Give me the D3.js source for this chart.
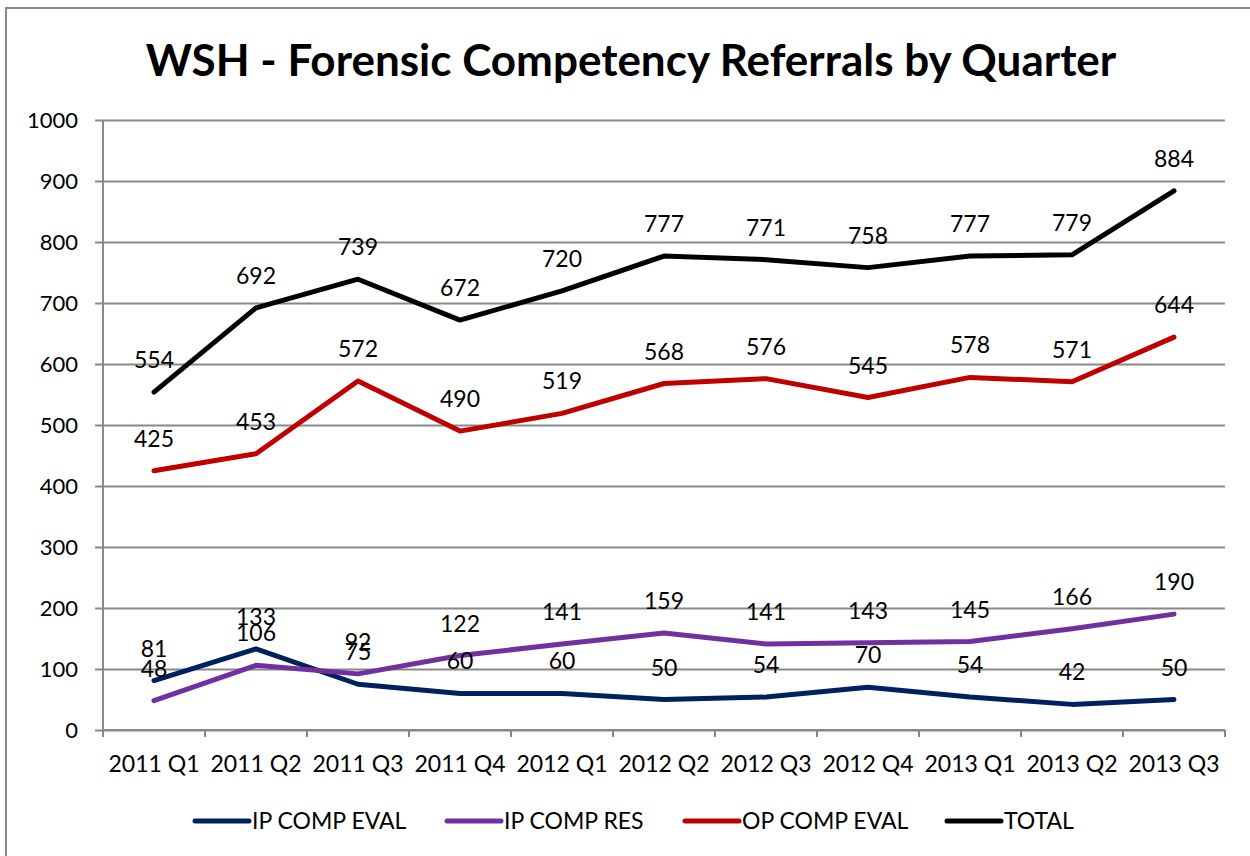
<!DOCTYPE html>
<html>
<head>
<meta charset="utf-8">
<script src="https://cdn.jsdelivr.net/npm/d3@7"></script>
<style>
  html, body { margin: 0; padding: 0; background: #ffffff; }
  svg { display: block; font-family: Lato, "Open Sans", sans-serif; }
</style>
</head>
<body>
<svg id="chart" width="1250" height="856"></svg>
<script>
var quarters = ['2011 Q1', '2011 Q2', '2011 Q3', '2011 Q4', '2012 Q1', '2012 Q2',
    '2012 Q3', '2012 Q4', '2013 Q1', '2013 Q2', '2013 Q3'];
var ipCompEval = [81, 133, 75, 60, 60, 50, 54, 70, 54, 42, 50];
var ipCompRes = [48, 106, 92, 122, 141, 159, 141, 143, 145, 166, 190];
var opCompEval = [425, 453, 572, 490, 519, 568, 576, 545, 578, 571, 644];
var total = [554, 692, 739, 672, 720, 777, 771, 758, 777, 779, 884];
var yTicks = [0, 100, 200, 300, 400, 500, 600, 700, 800, 900, 1000];

var series = [
    { name: 'IP COMP EVAL', values: ipCompEval, colour: '#002060' },
    { name: 'IP COMP RES', values: ipCompRes, colour: '#7030a0' },
    { name: 'OP COMP EVAL', values: opCompEval, colour: '#c00000' },
    { name: 'TOTAL', values: total, colour: '#000000' }
];

var svg = d3.select('#chart');
var plot = { left: 103, right: 1225, top: 120, bottom: 730 };
var gridColour = '#888888';

// outer chart border (right and bottom edges fall outside the picture)
svg.append('rect')
    .attr('x', 6).attr('y', 8)
    .attr('width', 1260).attr('height', 860)
    .attr('fill', 'none')
    .attr('stroke', gridColour)
    .attr('stroke-width', 2);

svg.append('text')
    .attr('x', 631).attr('y', 76)
    .attr('text-anchor', 'middle')
    .attr('font-weight', 'bold')
    .attr('font-size', 44)
    .attr('fill', '#000')
    .text('WSH - Forensic Competency Referrals by Quarter');

var x = d3.scaleBand().domain(quarters).range([plot.left, plot.right]);
var y = d3.scaleLinear().domain([0, 1000]).range([plot.bottom, plot.top]);

// horizontal gridlines plus y ticks
var yAxis = d3.axisLeft(y)
    .tickValues(yTicks)
    .tickFormat(d3.format('d'))
    .tickSize(plot.right - plot.left + 8)
    .tickPadding(17);
var gy = svg.append('g')
    .attr('transform', 'translate(' + plot.right + ',0)')
    .call(yAxis);
gy.select('.domain').remove();
gy.selectAll('line').attr('stroke', gridColour).attr('stroke-width', 2);
gy.selectAll('text').attr('font-size', 22).attr('fill', '#000')
    .attr('font-family', 'Lato, sans-serif');

// vertical axis line
svg.append('line')
    .attr('x1', plot.left).attr('x2', plot.left)
    .attr('y1', plot.top).attr('y2', plot.bottom)
    .attr('stroke', gridColour).attr('stroke-width', 2);

// category axis: ticks sit on band boundaries
var gx = svg.append('g').attr('transform', 'translate(0,' + plot.bottom + ')');
gx.append('line')
    .attr('x1', plot.left).attr('x2', plot.right)
    .attr('stroke', gridColour).attr('stroke-width', 2);
var bounds = quarters.map(function (q) { return x(q); }).concat([plot.right]);
gx.selectAll('line.tick')
    .data(bounds)
    .enter().append('line')
    .attr('class', 'tick')
    .attr('x1', function (d) { return d; }).attr('x2', function (d) { return d; })
    .attr('y1', 0).attr('y2', 7)
    .attr('stroke', gridColour).attr('stroke-width', 2);
gx.selectAll('text')
    .data(quarters)
    .enter().append('text')
    .attr('x', function (d) { return x(d) + x.bandwidth() / 2; })
    .attr('y', 42)
    .attr('text-anchor', 'middle')
    .attr('font-size', 23)
    .attr('fill', '#000')
    .text(function (d) { return d; });

var line = d3.line()
    .x(function (d, i) { return x(quarters[i]) + x.bandwidth() / 2; })
    .y(function (d) { return y(d); });

var lines = svg.append('g');
series.forEach(function (s) {
    lines.append('path')
        .datum(s.values)
        .attr('d', line)
        .attr('fill', 'none')
        .attr('stroke', s.colour)
        .attr('stroke-width', 5)
        .attr('stroke-linejoin', 'round')
        .attr('stroke-linecap', 'round');
});

// data labels sit above each point (overlaps at Q1-Q3 are as in the original)
var labels = svg.append('g');
series.forEach(function (s) {
    labels.selectAll(null)
        .data(s.values)
        .enter().append('text')
        .attr('x', function (d, i) { return x(quarters[i]) + x.bandwidth() / 2; })
        .attr('y', function (d) { return y(d) - 24; })
        .attr('text-anchor', 'middle')
        .attr('font-size', 23)
        .attr('fill', '#000')
        .text(function (d) { return d; });
});

// legend along the bottom
var legendX = [195, 447, 685, 947];
var legend = svg.append('g');
series.forEach(function (s, i) {
    legend.append('line')
        .attr('x1', legendX[i]).attr('x2', legendX[i] + 54)
        .attr('y1', 821).attr('y2', 821)
        .attr('stroke', s.colour)
        .attr('stroke-width', 5)
        .attr('stroke-linecap', 'round');
    legend.append('text')
        .attr('x', legendX[i] + 57)
        .attr('y', 829)
        .attr('font-size', 23)
        .attr('fill', '#000')
        .text(s.name);
});
</script>
</body>
</html>
